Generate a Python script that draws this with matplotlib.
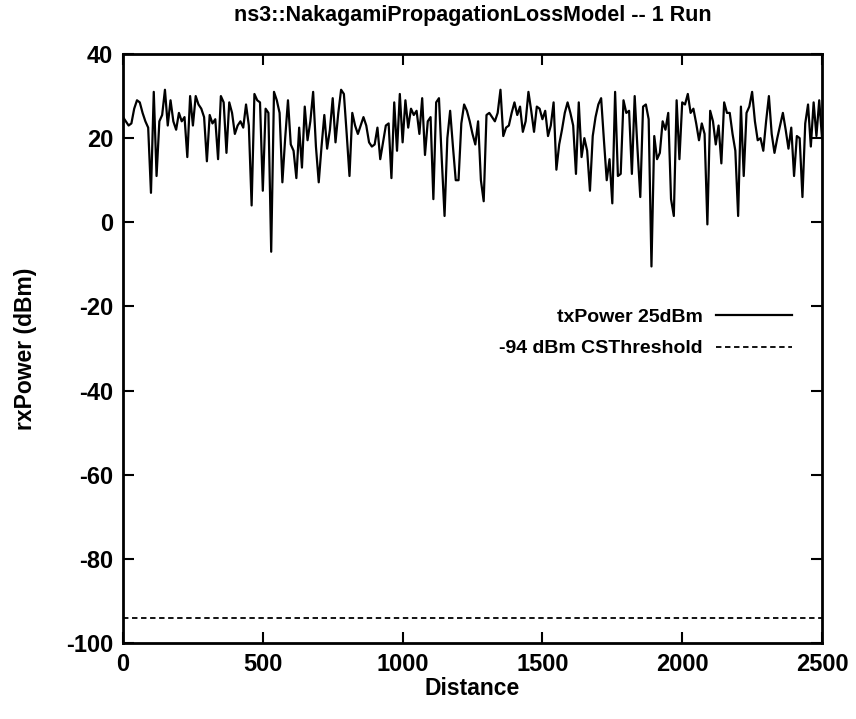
import matplotlib
matplotlib.use("Agg")
import matplotlib.pyplot as plt
import numpy as np

plt.rcParams['font.family'] = ['Liberation Sans', 'DejaVu Sans']
plt.rcParams['font.weight'] = 'bold'
plt.rcParams['axes.unicode_minus'] = False

# Distancia (m), passo de 10
distance = list(range(0, 2510, 10))

# rxPower (dBm)
rx_power = [
    25, 24, 23, 23.5, 27, 29, 28.5, 26, 24, 22.5, 7, 31, 11, 24, 25.5, 31.5, 23, 29, 24, 22, 26, 24, 25, 15.5,
    30, 23, 30, 28, 27, 25, 14.5, 25.5, 23.5, 24.5, 15, 30, 28.5, 16.5, 28.5, 26, 21, 23, 24, 22.5, 28, 23, 4, 30.5, 29,
    28.5, 7.5, 27, 26, -7, 31, 29, 26, 9.5, 20, 29, 18.5, 17, 10.5, 22.5, 13, 27.5, 19.5, 24, 31, 18, 9.5, 18, 25.5, 17.5,
    22, 29.5, 19, 26, 31.5, 30.5, 21, 11, 26, 23, 21, 23, 25, 23, 19, 18, 18.5, 22.5, 15, 19, 23, 23.5, 10.5, 28.5, 17,
    30.5, 19, 29, 22.5, 27, 25.5, 26.5, 21, 29.5, 16, 24, 25, 5.5, 28.5, 29.5, 15, 1.5, 20, 26.5, 18, 10, 10, 23.5, 28, 26.5,
    24, 21, 18.5, 24, 10, 5, 25.5, 26, 25, 24, 26, 31.5, 20.5, 22.5, 23, 26, 28.5, 25.5, 27.5, 21.5, 24, 31, 26.5, 21.5, 27.5,
    27, 24.5, 26.5, 20.5, 23, 28.5, 12.5, 18.5, 22, 26, 28.5, 26, 23, 11.5, 28.5, 15.5, 20, 17, 7.5, 20.5, 25, 28, 29.5, 19.5, 10, 15,
    4.5, 31, 11, 11.5, 29, 26, 26.5, 11.5, 30, 17.5, 6, 27.5, 28, 24.5, -10.5, 20.5, 15, 16.5, 24, 22, 26, 5.5, 1.5, 29,
    15, 28.5, 28, 30.5, 26, 27, 23.5, 19.5, 23.5, 21, -0.5, 26.5, 24, 18.5, 23, 14, 28.5, 26, 26, 21, 17, 1.5, 27.5, 11, 26, 27.5,
    31, 24, 19.5, 20, 17, 24, 30, 21, 16.5, 20, 23, 26, 22, 17.5, 22.5, 11, 20.5, 20, 6, 23.5, 28, 18, 28.5, 20.5, 29, 20,
]

cs_threshold = -94
x_ticks = [0, 500, 1000, 1500, 2000, 2500]
y_ticks = [-100, -80, -60, -40, -20, 0, 20, 40]

fig = plt.figure(figsize=(8.56, 7.19), dpi=100)
ax = fig.add_axes([0.1437, 0.1057, 0.8166, 0.8192])

ax.plot(distance, rx_power, color='black', linewidth=1.6, label='txPower 25dBm')
ax.plot([distance[0], distance[-1]], [cs_threshold, cs_threshold], color='black',
        linewidth=1.3, linestyle=(0, (3, 2)), label='-94 dBm CSThreshold')

ax.set_xlim(0, 2500)
ax.set_ylim(-100, 40)
ax.set_xticks(x_ticks)
ax.set_yticks(y_ticks)
ax.tick_params(direction='in', length=8, width=1.5, labelsize=17, pad=7,
               top=True, right=True)
for s in ax.spines.values():
    s.set_linewidth(2)

ax.set_title('ns3::NakagamiPropagationLossModel -- 1 Run', fontsize=15.5, fontweight='bold', pad=24)
ax.set_xlabel('Distance', fontsize=16.5, fontweight='bold', labelpad=1)
ax.set_ylabel('rxPower (dBm)', fontsize=16.5, fontweight='bold', labelpad=21)

ax.legend(loc='upper right', bbox_to_anchor=(0.968, 0.581), frameon=False,
          markerfirst=False, handlelength=3.9, fontsize=14, labelspacing=0.7,
          borderaxespad=0, handletextpad=0.7)

plt.savefig('out.png', dpi=100)
